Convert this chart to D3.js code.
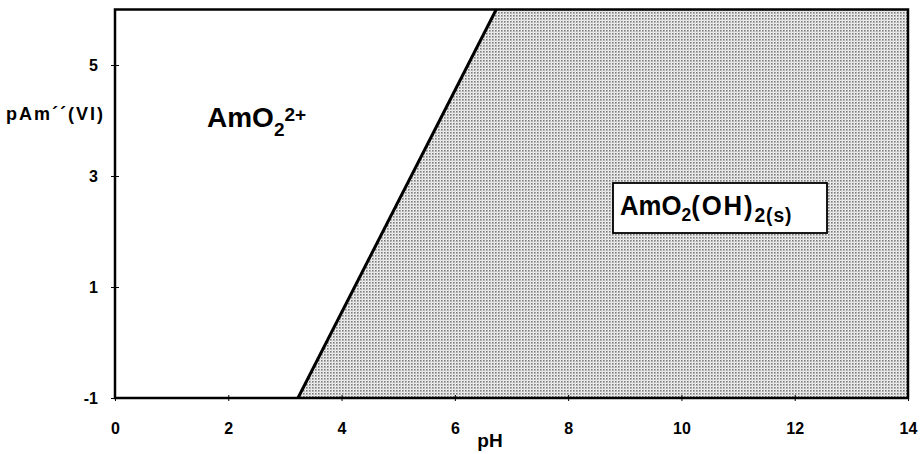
<!DOCTYPE html>
<html><head><meta charset="utf-8">
<script src="https://cdn.jsdelivr.net/npm/d3@7"></script>
<style>
html,body{margin:0;padding:0;background:#fff;}
svg{display:block;font-family:Arial,"Liberation Sans",Helvetica,sans-serif;font-weight:bold;}
</style></head>
<body>
<svg id="c" width="921" height="454"></svg>
<script>
// Data
const xDomain = [0, 14];
const yDomain = [-1, 6];
const xTicks = [0, 2, 4, 6, 8, 10, 12, 14];
const yTicks = [-1, 1, 3, 5];
const boundaryPH = [3.23, 6.73];
const boundaryPAm = [-1, 6];
const xLabel = "pH";
const yLabel = "pAm\u00B4\u00B4(VI)";

const svg = d3.select("#c");
const x = d3.scaleLinear().domain(xDomain).range([115, 908]);
const y = d3.scaleLinear().domain(yDomain).range([398, 9.5]);
const FF = "Arial,'Liberation Sans',sans-serif";

// stipple pattern
const defs = svg.append("defs");
const pat = defs.append("pattern").attr("id","stip").attr("width",3).attr("height",3)
  .attr("patternUnits","userSpaceOnUse");
pat.append("rect").attr("width",3).attr("height",3).attr("fill","#f2f2f2");
pat.append("rect").attr("x",0).attr("y",0).attr("width",1.6).attr("height",1.6).attr("fill","#7a7a7a");
pat.append("rect").attr("x",1.5).attr("y",1.5).attr("width",1).attr("height",1).attr("fill","#b5b5b5");

// solid region polygon
const poly = [
  [boundaryPH[0], boundaryPAm[0]],
  [boundaryPH[1], boundaryPAm[1]],
  [xDomain[1], yDomain[1]],
  [xDomain[1], yDomain[0]]
];
svg.append("path")
  .attr("d", d3.line().x(d=>x(d[0])).y(d=>y(d[1]))(poly) + "Z")
  .attr("fill","url(#stip)");

// frame
svg.append("rect").attr("x",x(0)).attr("y",y(6)).attr("width",x(14)-x(0)).attr("height",y(-1)-y(6))
  .attr("fill","none").attr("stroke","#000").attr("stroke-width",2.5);

// boundary line
svg.append("line")
  .attr("x1",x(boundaryPH[0])).attr("y1",y(boundaryPAm[0]))
  .attr("x2",x(boundaryPH[1])).attr("y2",y(boundaryPAm[1]))
  .attr("stroke","#000").attr("stroke-width",3);

// x axis
const xa = svg.append("g").attr("transform",`translate(0,${y(-1)})`)
  .call(d3.axisBottom(x).tickValues(xTicks).tickSize(3).tickPadding(22).tickFormat(d => String(d)));
xa.select(".domain").remove();
xa.selectAll(".tick line").attr("y1",-3).attr("y2",3).attr("stroke","#000").attr("stroke-width",1);
xa.selectAll(".tick text").attr("font-size",16).attr("font-weight","bold").attr("font-family",FF).attr("fill","#000");

// y axis
const ya = svg.append("g").attr("transform",`translate(${x(0)},0)`)
  .call(d3.axisLeft(y).tickValues(yTicks).tickSize(4).tickPadding(13).tickFormat(d => String(d)));
ya.select(".domain").remove();
ya.selectAll(".tick line").attr("x1",-4).attr("x2",4).attr("stroke","#000").attr("stroke-width",1);
ya.selectAll(".tick text").attr("font-size",16).attr("font-weight","bold").attr("font-family",FF).attr("fill","#000");

// axis titles
svg.append("text").attr("x",490).attr("y",447).attr("text-anchor","middle")
  .attr("font-size",19).text(xLabel);
svg.append("text").attr("x",6).attr("y",120)
  .attr("font-size",18).attr("textLength",97).attr("lengthAdjust","spacing").text(yLabel);

// region label: AmO2 2+
const t1 = svg.append("text").attr("x",207).attr("y",127).attr("font-size",28);
t1.append("tspan").text("AmO");
t1.append("tspan").attr("font-size",19).attr("dy",9).text("2");
t1.append("tspan").attr("font-size",19).attr("dy",-15).text("2+");

// solid label box
svg.append("rect").attr("x",613).attr("y",183).attr("width",214).attr("height",50)
  .attr("fill","#fff").attr("stroke","#000").attr("stroke-width",1.8);
const g2 = svg.append("g").attr("transform","translate(620,215) scale(0.92,1)");
const t2 = g2.append("text").attr("x",0).attr("y",0).attr("font-size",28);
t2.append("tspan").text("AmO");
t2.append("tspan").attr("font-size",19).attr("dy",6).text("2");
t2.append("tspan").attr("dy",-6).attr("letter-spacing",2).text("(OH)");
t2.append("tspan").attr("font-size",21).attr("dy",7).attr("letter-spacing",1).text("2(s)");
</script>
</body></html>
